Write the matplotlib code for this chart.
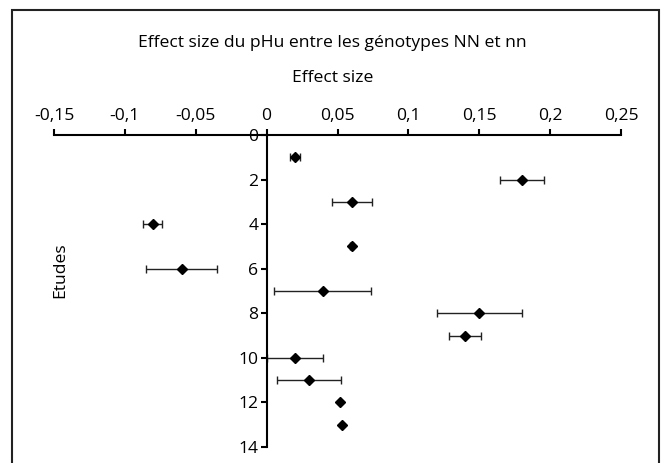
import matplotlib
matplotlib.use("Agg")
import matplotlib.pyplot as plt
from matplotlib.patches import Rectangle

# data
etudes = [1, 2, 3, 4, 5, 6, 7, 8, 9, 10, 11, 12, 13]
effect = [0.02, 0.18, 0.06, -0.0805, 0.06, -0.06, 0.0395, 0.15, 0.14, 0.02, 0.0297, 0.052, 0.0534]
erreur = [0.0035, 0.0155, 0.014, 0.0064, 0.001, 0.025, 0.034, 0.03, 0.011, 0.02, 0.0225, 0.0, 0.0]
xticks = [-0.15, -0.1, -0.05, 0, 0.05, 0.1, 0.15, 0.2, 0.25]
xlabels = ["-0,15", "-0,1", "-0,05", "0", "0,05", "0,1", "0,15", "0,2", "0,25"]
yticks = [0, 2, 4, 6, 8, 10, 12, 14]

plt.rcParams["font.family"] = ["Open Sans", "DejaVu Sans"]
fs = 12.6

fig = plt.figure(figsize=(6.65, 4.63), dpi=100)
ax = fig.add_axes([54/665, 1 - 447/463, (621-54)/665, (447-135)/463])

ax.errorbar(effect, etudes, xerr=erreur, fmt="D", color="black", markersize=5.5,
            ecolor="#222222", elinewidth=1, capsize=3, capthick=1)

ax.set_xlim(-0.15, 0.25)
ax.set_ylim(14, 0)
ax.xaxis.tick_top()
ax.set_xticks(xticks)
ax.set_xticklabels(xlabels)
ax.set_yticks(yticks)
ax.tick_params(axis="x", direction="out", length=4, width=1.5, pad=4, labelsize=fs)
ax.tick_params(axis="y", direction="out", length=4, width=1.5, pad=2, labelsize=fs)

ax.spines["left"].set_position(("data", 0))
ax.spines["left"].set_linewidth(1.5)
ax.spines["top"].set_linewidth(1.5)
ax.spines["right"].set_visible(False)
ax.spines["bottom"].set_visible(False)

fig.text(0.5, 1 - 43/463, "Effect size du pHu entre les génotypes NN et nn",
         ha="center", va="center", fontsize=fs)
fig.text(0.5, 1 - 78/463, "Effect size", ha="center", va="center", fontsize=fs)
fig.text(60/665, 1 - 270/463, "Etudes", ha="center", va="center", rotation=90, fontsize=fs)

fig.patches.append(Rectangle((11.5/665, -0.05), 647/665, 1.05 - 10.5/463, transform=fig.transFigure,
                             fill=False, edgecolor="#222222", linewidth=1.5))

fig.savefig("out.png", dpi=100)
